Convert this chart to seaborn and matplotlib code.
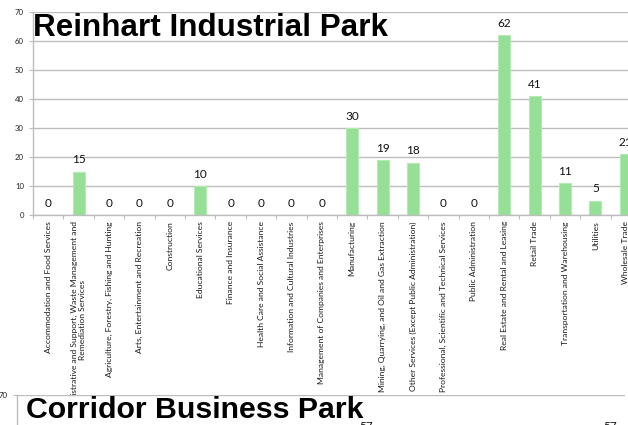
import matplotlib
matplotlib.use("Agg")
import matplotlib.pyplot as plt
from matplotlib.ticker import MultipleLocator, FixedLocator
import seaborn as sns

# Industry categories shared by both business-park panels
categories = [
    "Accommodation and Food Services",
    "Administrative and Support, Waste Management and\nRemediation Services",
    "Agriculture, Forestry, Fishing and Hunting",
    "Arts, Entertainment and Recreation",
    "Construction",
    "Educational Services",
    "Finance and Insurance",
    "Health Care and Social Assistance",
    "Information and Cultural Industries",
    "Management of Companies and Enterprises",
    "Manufacturing",
    "Mining, Quarrying, and Oil and Gas Extraction",
    "Other Services (Except Public Administration)",
    "Professional, Scientific and Technical Services",
    "Public Administration",
    "Real Estate and Rental and Leasing",
    "Retail Trade",
    "Transportation and Warehousing",
    "Utilities",
    "Wholesale Trade",
]

# Reinhart Industrial Park: businesses per industry
reinhart_values = [0, 15, 0, 0, 0, 10, 0, 0, 0, 0, 30, 19, 18, 0, 0, 62, 41, 11, 5, 21]

# Corridor Business Park: the tallest bars in the panel below
corridor_categories = ["Mining, Quarrying, and Oil and Gas Extraction", "Wholesale Trade"]
corridor_values = [57, 57]

y_ticks = [0, 10, 20, 30, 40, 50, 60, 70]

BAR = "#96DF96"
BAR_EDGE = "#B4EAB4"
GRID = "#BDBDBD"
W, H = 628, 425

sns.set_style("white")
plt.rcParams["font.family"] = ["Lato", "DejaVu Sans"]

fig = plt.figure(figsize=(W / 100, H / 100), dpi=100)
fig.patch.set_facecolor("white")


def style_axis(ax):
    ax.set_ylim(0, 70)
    ax.yaxis.set_major_locator(FixedLocator(y_ticks))
    ax.set_xlim(-0.5, len(categories) - 0.5)
    ax.yaxis.grid(True, color=GRID, linewidth=1.0)
    ax.xaxis.grid(False)
    ax.set_axisbelow(True)
    for side in ("top", "right"):
        ax.spines[side].set_visible(False)
    for side in ("left", "bottom"):
        ax.spines[side].set_color(GRID)
        ax.spines[side].set_linewidth(1.0)
    ax.tick_params(axis="y", length=3, width=0.8, color=GRID, pad=3.5,
                   labelsize=5.6, labelcolor="#222222", left=True)
    ax.set_xlabel("")
    ax.set_ylabel("")


def bars(ax, cats, vals):
    sns.barplot(x=cats, y=vals, order=categories, color=BAR, width=0.4,
                saturation=1, edgecolor=BAR_EDGE, linewidth=0.8, ax=ax)
    for cont in ax.containers:
        ax.bar_label(cont, fmt="%.0f", padding=4.6, fontsize=8.5,
                     color="#111111")


# --- Reinhart Industrial Park ---
ax1 = fig.add_axes([33 / W, (H - 215) / H, 608 / W, 203 / H])
bars(ax1, categories, reinhart_values)
style_axis(ax1)
ax1.xaxis.set_minor_locator(MultipleLocator(1, offset=0.5))
ax1.tick_params(axis="x", which="minor", length=3, width=0.8, color=GRID,
                bottom=True)
ax1.tick_params(axis="x", which="major", length=0, pad=4.5, labelsize=6.1,
                labelcolor="#1a1a1a")
ax1.set_xticks(range(len(categories)))
ax1.set_xticklabels(categories, rotation=90, va="top", ha="center",
                    multialignment="center")

# --- Corridor Business Park (upper edge of the panel below) ---
ax2 = fig.add_axes([17 / W, (H - 395 - 231) / H, 608 / W, 231 / H])
ax2.patch.set_facecolor("white")
bars(ax2, corridor_categories, corridor_values)
style_axis(ax2)
ax2.tick_params(axis="x", length=0, labelbottom=False)

fig.text(33 / W, 1 - 36 / H, "Reinhart Industrial Park",
         fontfamily="Liberation Sans", fontweight="bold", fontsize=22.6,
         va="baseline", ha="left", color="black")
fig.text(26.5 / W, 1 - 418 / H, "Corridor Business Park",
         fontfamily="Liberation Sans", fontweight="bold", fontsize=21.8,
         va="baseline", ha="left", color="black")

fig.savefig("out.png", dpi=100, facecolor="white")
